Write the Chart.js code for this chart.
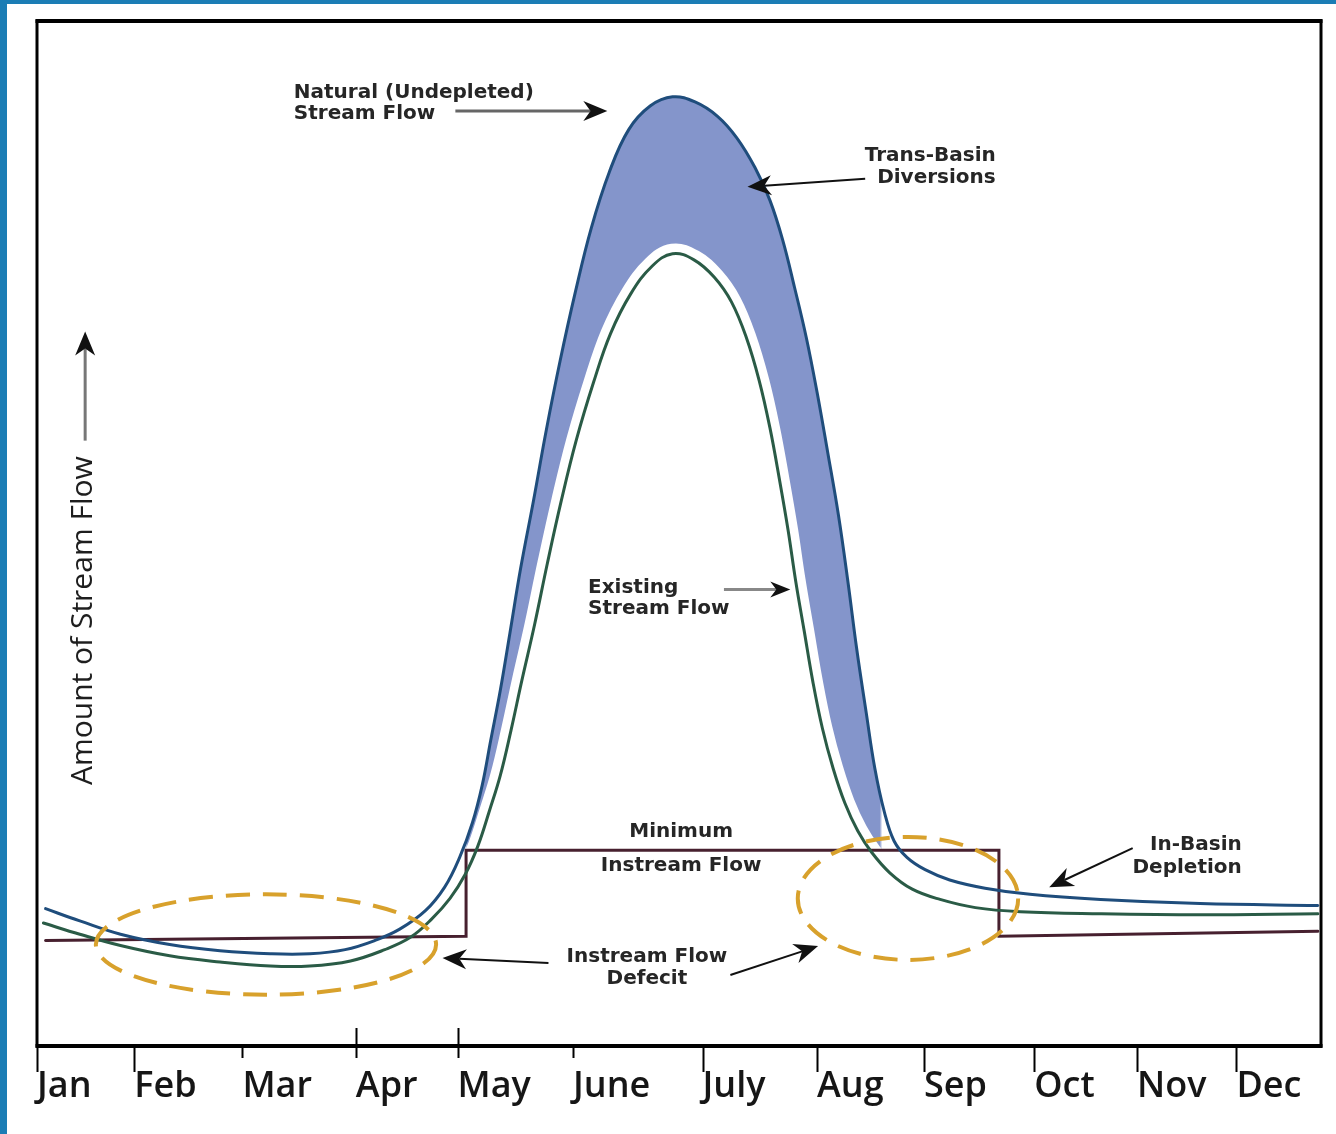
<!DOCTYPE html>
<html lang="en">
<head>
<meta charset="UTF-8">
<title>Stream Flow Through the Year</title>
<script src="https://cdn.jsdelivr.net/npm/chart.js"></script>
<style>
    html, body { margin: 0; padding: 0; }
    body { width: 1336px; height: 1134px; background: #1b7db5; position: relative; overflow: hidden; }
    #panel { position: absolute; left: 7px; top: 4px; right: 0; bottom: 0; background: #ffffff; }
    #wrap { position: absolute; left: 0; top: 0; width: 1336px; height: 1134px; }
</style>
</head>
<body>
<div id="panel"></div>
<div id="wrap"><canvas id="flowChart"></canvas></div>

<script>
    // x runs in months from 0 (start of Jan) to 12, flow is in relative units 0..100
    const months = ['Jan', 'Feb', 'Mar', 'Apr', 'May', 'June', 'July', 'Aug', 'Sep', 'Oct', 'Nov', 'Dec'];
    const monthTicks = [0, 0.91, 1.92, 2.98, 3.93, 5.01, 6.22, 7.29, 8.29, 9.32, 10.28, 11.21];

    // Natural (undepleted) stream flow
    const naturalX = [0.08, 0.40, 0.78, 1.24, 1.71, 2.18, 2.55, 2.88, 3.16, 3.39, 3.63, 3.81, 3.95, 4.07,
        4.16, 4.24, 4.33, 4.42, 4.52, 4.64, 4.76, 4.89, 5.03, 5.18, 5.35, 5.53, 5.73, 5.94, 6.15, 6.36,
        6.54, 6.71, 6.85, 6.97, 7.08, 7.19, 7.29, 7.39, 7.49, 7.58, 7.66, 7.75, 7.83, 7.92, 8.01, 8.13,
        8.30, 8.53, 8.86, 9.28, 9.94, 10.87, 11.97];
    const naturalY = [13.4, 12.2, 10.9, 9.9, 9.3, 9.0, 9.0, 9.4, 10.3, 11.4, 13.2, 15.5, 18.4, 21.8,
        25.4, 29.8, 34.7, 40.3, 46.6, 53.2, 60.1, 66.9, 73.5, 79.8, 85.3, 89.4, 91.7, 92.6, 92.1, 90.7,
        88.6, 85.7, 82.5, 78.6, 74.0, 69.1, 63.8, 57.9, 51.8, 45.2, 38.8, 32.5, 27.1, 22.8, 20.0, 18.4,
        17.2, 16.2, 15.4, 14.8, 14.3, 13.9, 13.7];

    // Existing stream flow
    const existingX = [0.06, 0.40, 0.78, 1.24, 1.71, 2.18, 2.55, 2.93, 3.25, 3.49, 3.69, 3.86, 4.00, 4.12,
        4.23, 4.33, 4.43, 4.53, 4.65, 4.77, 4.90, 5.04, 5.20, 5.36, 5.55, 5.75, 5.94, 6.14, 6.33, 6.49,
        6.63, 6.75, 6.85, 6.94, 7.02, 7.09, 7.17, 7.25, 7.34, 7.44, 7.55, 7.67, 7.80, 7.97, 8.18, 8.44,
        8.77, 9.19, 9.94, 10.87, 11.97];
    const existingY = [12.0, 10.9, 9.8, 8.8, 8.2, 7.8, 7.8, 8.3, 9.4, 10.6, 12.4, 14.4, 16.7, 19.5,
        23.0, 26.4, 30.8, 35.6, 41.1, 47.1, 53.2, 59.1, 64.7, 69.5, 73.4, 76.1, 77.3, 76.7, 75.0, 72.6,
        69.1, 64.9, 60.3, 55.2, 50.3, 45.4, 40.5, 35.6, 31.0, 27.1, 23.7, 21.0, 18.9, 16.9, 15.3, 14.3,
        13.5, 13.1, 12.9, 12.8, 12.9];

    // Minimum instream flow (step)
    const minFlowX = [0.08, 4.01, 4.01, 8.99, 8.99, 11.97];
    const minFlowY = [10.3, 10.7, 19.1, 19.1, 10.7, 11.2];

    const toPoints = (xs, ys) => xs.map((x, i) => ({ x: x, y: ys[i] }));

    // only shade the diversion between the two curves around the spring peak
    function diversionFill(context) {
        const chart = context.chart;
        const area = chart.chartArea;
        if (!area || !chart.scales.x) return 'rgba(132,149,203,0)';
        const sx = chart.scales.x;
        const g = chart.ctx.createLinearGradient(area.left, 0, area.right, 0);
        const f1 = (sx.getPixelForValue(4.0) - area.left) / area.width;
        const f2 = (sx.getPixelForValue(7.9) - area.left) / area.width;
        g.addColorStop(0, 'rgba(132,149,203,0)');
        g.addColorStop(f1, 'rgba(132,149,203,0)');
        g.addColorStop(f1 + 0.002, '#8495cb');
        g.addColorStop(f2 - 0.002, '#8495cb');
        g.addColorStop(f2, 'rgba(132,149,203,0)');
        g.addColorStop(1, 'rgba(132,149,203,0)');
        return g;
    }

    function drawArrow(ctx, x1, y1, x2, y2, lineColor, lineWidth, len, half) {
        const a = Math.atan2(y2 - y1, x2 - x1);
        const c = Math.cos(a), s = Math.sin(a);
        ctx.strokeStyle = lineColor;
        ctx.lineWidth = lineWidth;
        ctx.beginPath();
        ctx.moveTo(x1, y1);
        ctx.lineTo(x2 - len * 0.7 * c, y2 - len * 0.7 * s);
        ctx.stroke();
        ctx.fillStyle = '#111';
        ctx.beginPath();
        ctx.moveTo(x2, y2);
        ctx.lineTo(x2 - len * c - half * s, y2 - len * s + half * c);
        ctx.lineTo(x2 - len * 0.7 * c, y2 - len * 0.7 * s);
        ctx.lineTo(x2 - len * c + half * s, y2 - len * s - half * c);
        ctx.closePath();
        ctx.fill();
    }

    const decor = {
        id: 'decor',
        afterDatasetsDraw(chart) {
            const ctx = chart.ctx, sx = chart.scales.x, sy = chart.scales.y;
            // dashed circles around the instream flow deficits
            ctx.save();
            ctx.strokeStyle = '#d8a12c';
            ctx.lineWidth = 4;
            ctx.setLineDash([24, 13]);
            [[2.14, 9.9, 1.59, 4.9], [8.14, 14.4, 1.03, 6.0]].forEach(e => {
                const cx = sx.getPixelForValue(e[0]), cy = sy.getPixelForValue(e[1]);
                ctx.beginPath();
                ctx.ellipse(cx, cy, sx.getPixelForValue(e[0] + e[2]) - cx, cy - sy.getPixelForValue(e[1] + e[3]), 0, 0, Math.PI * 2);
                ctx.stroke();
            });
            ctx.restore();
        },
        afterDraw(chart) {
            const ctx = chart.ctx, sx = chart.scales.x, sy = chart.scales.y;
            const area = chart.chartArea;
            const X = v => sx.getPixelForValue(v), Y = v => sy.getPixelForValue(v);
            ctx.save();

            // frame and axis
            ctx.strokeStyle = '#000';
            ctx.lineWidth = 3;
            ctx.strokeRect(area.left, area.top, area.right - area.left, area.bottom - area.top);
            ctx.lineWidth = 4;
            ctx.beginPath();
            ctx.moveTo(area.left - 1.5, area.bottom);
            ctx.lineTo(area.right + 1.5, area.bottom);
            ctx.moveTo(area.left - 1.5, area.top);
            ctx.lineTo(area.right + 1.5, area.top);
            ctx.stroke();

            // month ticks, a few short ones and two above the axis
            const shortTicks = ['Mar', 'Apr', 'May', 'June'];
            ctx.lineWidth = 2;
            monthTicks.forEach((v, i) => {
                const px = Math.round(X(v)) + 0.5;
                ctx.beginPath();
                ctx.moveTo(px, area.bottom);
                ctx.lineTo(px, area.bottom + (shortTicks.includes(months[i]) ? 12 : 26));
                if (months[i] === 'Apr' || months[i] === 'May') {
                    ctx.moveTo(px, area.bottom);
                    ctx.lineTo(px, area.bottom - 18);
                }
                ctx.stroke();
            });

            // labels
            ctx.fillStyle = '#262626';
            ctx.font = 'bold 20px "DejaVu Sans"';
            ctx.textBaseline = 'alphabetic';
            ctx.textAlign = 'left';
            ctx.fillText('Natural (Undepleted)', X(2.40), Y(92.5));
            ctx.fillText('Stream Flow', X(2.40), Y(90.45));
            ctx.fillText('Existing', X(5.15), Y(44.15));
            ctx.fillText('Stream Flow', X(5.15), Y(42.11));
            ctx.textAlign = 'right';
            ctx.fillText('Trans-Basin', X(8.96), Y(86.35));
            ctx.fillText('Diversions', X(8.96), Y(84.21));
            ctx.fillText('In-Basin', X(11.26), Y(19.1));
            ctx.fillText('Depletion', X(11.26), Y(16.86));
            ctx.textAlign = 'center';
            ctx.fillText('Minimum', X(6.02), Y(20.37));
            ctx.fillText('Instream Flow', X(6.02), Y(17.06));
            ctx.fillText('Instream Flow', X(5.70), Y(8.19));
            ctx.fillText('Defecit', X(5.70), Y(6.04));

            // arrows
            drawArrow(ctx, X(3.91), Y(91.23), X(5.33), Y(91.23), '#666', 3, 24, 10);
            drawArrow(ctx, X(7.74), Y(84.6), X(6.64), Y(83.82), '#111', 2, 24, 10);
            drawArrow(ctx, X(6.42), Y(44.54), X(7.04), Y(44.54), '#888', 3, 20, 8);
            drawArrow(ctx, X(4.78), Y(8.09), X(3.79), Y(8.58), '#111', 2, 24, 10);
            drawArrow(ctx, X(6.48), Y(6.92), X(7.30), Y(9.75), '#111', 2, 24, 10);
            drawArrow(ctx, X(10.24), Y(19.3), X(9.46), Y(15.5), '#111', 2, 24, 10);
            drawArrow(ctx, X(0.45), Y(59.06), X(0.45), Y(69.7), '#777', 3, 24, 10);

            // y axis title
            ctx.translate(X(0.43), Y(41.5));
            ctx.rotate(-Math.PI / 2);
            ctx.font = '30px "Open Sans"';
            ctx.fillStyle = '#1e1e1e';
            ctx.textAlign = 'center';
            ctx.textBaseline = 'middle';
            ctx.fillText('Amount of Stream Flow', 0, 0);
            ctx.restore();
        }
    };

    const ctx = document.getElementById('flowChart').getContext('2d');
    const flowChart = new Chart(ctx, {
        type: 'line',
        data: {
            datasets: [
                { label: 'Natural (Undepleted) Stream Flow', data: toPoints(naturalX, naturalY), borderColor: '#1f4d7c', borderWidth: 3, fill: 1, backgroundColor: diversionFill, order: 0 },
                { label: 'Existing Stream Flow', data: toPoints(existingX, existingY), borderColor: '#2a5b46', borderWidth: 3, fill: false, order: 1 },
                { label: 'Minimum Instream Flow', data: toPoints(minFlowX, minFlowY), borderColor: '#47202f', borderWidth: 3, fill: false, tension: 0, borderJoinStyle: 'miter', order: 2 },
                { label: 'gap', data: toPoints(existingX, existingY), borderColor: '#ffffff', borderWidth: 20, fill: false, order: 3 }
            ]
        },
        options: {
            responsive: true,
            maintainAspectRatio: false,
            animation: false,
            layout: { padding: { left: 37, right: 15, top: 21, bottom: 0 } },
            elements: {
                point: { radius: 0 },
                line: { tension: 0.4, borderJoinStyle: 'round', borderCapStyle: 'round' }
            },
            plugins: {
                legend: { display: false },
                tooltip: { enabled: false },
                filler: { drawTime: 'beforeDatasetsDraw' }
            },
            scales: {
                x: {
                    type: 'linear', min: 0, max: 12,
                    afterBuildTicks: scale => { scale.ticks = monthTicks.map(v => ({ value: v })); },
                    afterFit: scale => { scale.height = 88; },
                    ticks: {
                        align: 'start', autoSkip: false, maxRotation: 0, padding: 5, color: '#161616',
                        font: { family: 'Open Sans', size: 36, weight: '600' },
                        callback: (v, i) => months[i]
                    },
                    grid: { drawOnChartArea: false, tickLength: 14, tickColor: 'rgba(0,0,0,0)' },
                    border: { display: false }
                },
                y: { display: false, min: 0, max: 100 }
            }
        },
        plugins: [decor]
    });
</script>
</body>
</html>
